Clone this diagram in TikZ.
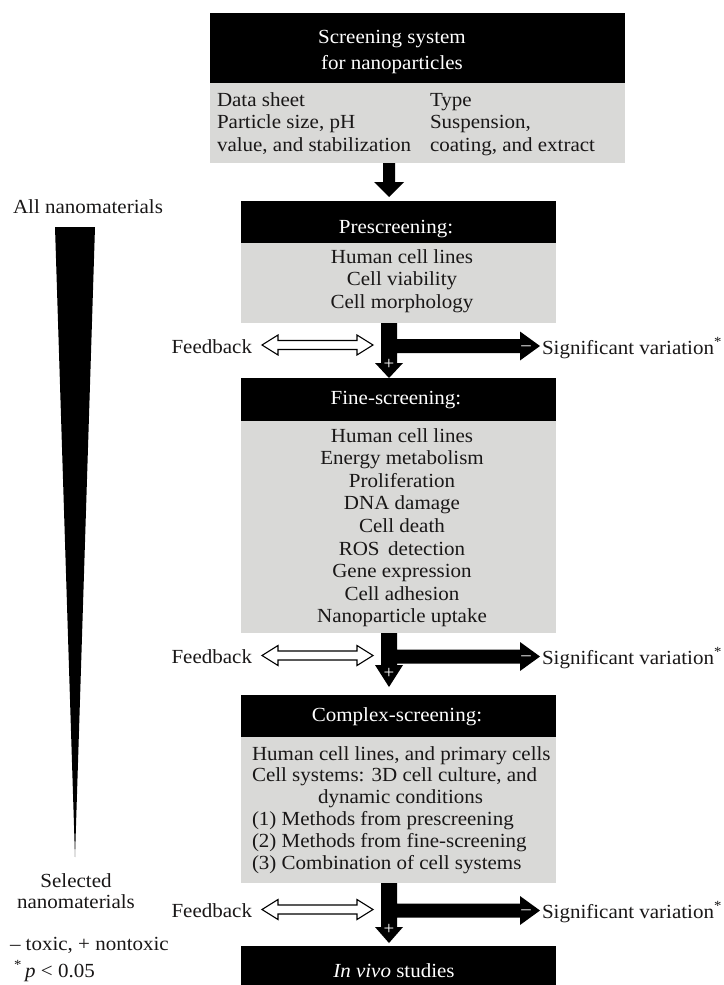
\documentclass[tikz,border=0pt]{standalone}
\usepackage{fontspec}
\setmainfont{Liberation Serif}[FakeStretch=1.05]
\definecolor{boxgray}{RGB}{217,217,215}
\definecolor{ink}{RGB}{25,23,23}
\begin{document}
\begin{tikzpicture}[x=1pt,y=-1pt,
  txt/.style={font=\fontsize{20}{22.6}\selectfont, text=ink, inner sep=0pt, outer sep=0pt},
  wtxt/.style={txt, text=white},
  sign/.style={font=\fontsize{18}{18}\selectfont, text=white, inner sep=0pt},
  blk/.style={fill=black},
  gry/.style={fill=boxgray},
  fbarrow/.style={draw=black, fill=white, line width=1.1pt, line join=miter},
]
\useasboundingbox (0,0) rectangle (723,985);

% ---------- top box
\fill[blk] (210,13) rectangle (625,83);
\fill[gry] (210,83) rectangle (625,163);
\node[wtxt, align=center] (title) at (392,52.5) {Screening system\\[3.4pt]for nanoparticles};
\node[txt, align=left, anchor=north west] (data) at (217,106-15.82) {\strut Data sheet\\Particle size, pH\\value, and stabilization};
\node[txt, align=left, anchor=north west] (type) at (430,106-15.82) {\strut Type\\Suspension,\\coating, and extract};

% top arrow
\fill (383,163) -- (395,163) -- (395,182) -- (404,182) -- (389,197) -- (374,182) -- (383,182) -- cycle;

% ---------- prescreening
\fill[blk] (241,201) rectangle (556,243);
\fill[gry] (241,243) rectangle (556,323);
\node[wtxt, anchor=base] (pre) at (396,233) {Prescreening:};
\node[txt, align=center, anchor=north] (prelist) at (402,263-15.82) {\strut Human cell lines\\Cell viability\\Cell morphology};

% ---------- fine-screening
\fill[blk] (241,378) rectangle (556,421);
\fill[gry] (241,421) rectangle (556,633);
\node[wtxt, anchor=base] (fine) at (396,404) {Fine-screening:};
\node[txt, align=center, anchor=north] (finelist) at (402,442-15.82) {\strut Human cell lines\\Energy metabolism\\Proliferation\\DNA damage\\Cell death\\ROS\, detection\\Gene expression\\Cell adhesion\\Nanoparticle uptake};

% ---------- complex-screening
\fill[blk] (241,695) rectangle (556,737);
\fill[gry] (241,737) rectangle (556,883);
\node[wtxt, anchor=base] (cplx) at (397,721) {Complex-screening:};
\node[txt, font=\fontsize{20}{21.8}\selectfont, align=left, anchor=north west] (cplxlist) at (252,760-15.26) {\strut Human cell lines, and primary cells\\Cell systems: 3D cell culture, and\\\hspace*{66pt}dynamic conditions\\(1) Methods from prescreening\\(2) Methods from fine-screening\\(3) Combination of cell systems};

% ---------- in vivo
\fill[blk] (241,946) rectangle (556,985);
\node[wtxt, anchor=base] (vivo) at (394,977) {\textit{In vivo} studies};

% ---------- junctions
\foreach \top/\c/\ht/\tip/\n in {323/346/363/378/1, 633/656.5/665/687/2, 883/910.5/927/943/3}{
  \fill (381,\top) -- (397,\top) -- (397,\c-7) -- (520,\c-7) -- (520,\c-14.5) -- (540,\c)
        -- (520,\c+14.5) -- (520,\c+7) -- (397,\c+7) -- (397,\ht) -- (403,\ht)
        -- (389,\tip) -- (375,\ht) -- (381,\ht) -- cycle;
  \node[sign] (minus\n) at (526,\c+4) {--};
  \node[sign] (plus\n) at (389,\tip-9) {+};
  \draw[fbarrow] (262,\c-1) -- (278,\c-11) -- (278,\c-5.5) -- (357,\c-5.5) -- (357,\c-11)
        -- (373,\c-1) -- (357,\c+9) -- (357,\c+3.5) -- (278,\c+3.5) -- (278,\c+9) -- cycle;
  \node[txt, anchor=base east] (fb\n) at (252,\c+7) {Feedback};
  \node[txt, anchor=base west] (sv\n) at (542,\c+8) {Significant variation\textsuperscript{*}};
}

% ---------- left wedge and legend
\fill (55,227) -- (95,227) -- (75,857) -- cycle;
\node[txt, anchor=base] (all) at (88,213) {All nanomaterials};
\node[txt, align=center, anchor=north] (sel) at (76,887-15.82) {\strut Selected\\[-1.6pt]nanomaterials};
\node[txt, anchor=base west] (leg1) at (10,950) {-- toxic, + nontoxic};
\node[txt, anchor=base west] (leg2) at (14,977) {\textsuperscript{*}\,\textit{p} < 0.05};
\end{tikzpicture}
\end{document}
